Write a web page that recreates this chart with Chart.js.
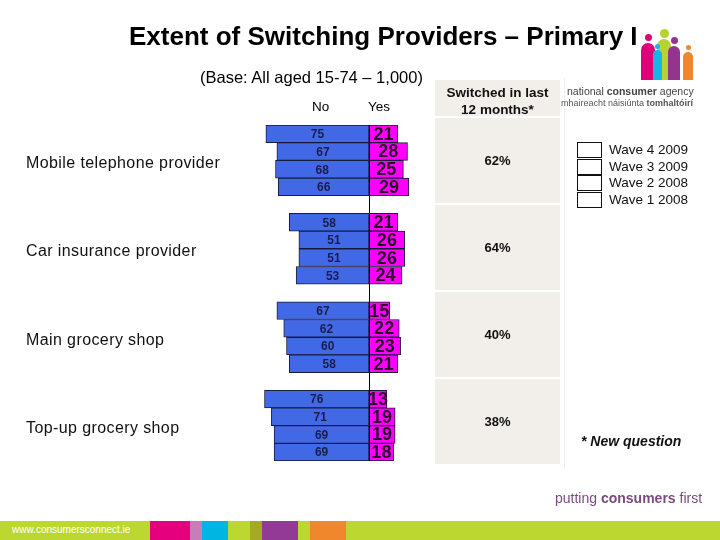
<!DOCTYPE html>
<html>
<head>
<meta charset="utf-8">
<script src="https://cdn.jsdelivr.net/npm/chart.js@4/dist/chart.umd.min.js"></script>
<style>
  html,body{margin:0;padding:0;background:#fff;}
  #page{position:relative;width:720px;height:540px;overflow:hidden;font-family:Arial,"Liberation Sans",sans-serif;background:#fff;}
  #c{position:absolute;left:0;top:0;}
  .abs{position:absolute;white-space:nowrap;}
  .cell{position:absolute;background:#f2eeea;}
  .cellTxt{position:absolute;left:0;right:0;text-align:center;font-weight:bold;font-size:13px;color:#111;}
  .lbox{position:absolute;left:577px;width:23px;height:14px;border:1px solid #111;background:#fff;}
  .ltxt{position:absolute;left:609px;font-size:13.5px;color:#111;}
</style>
</head>
<body>
<div id="page">
  <canvas id="c" width="720" height="540"></canvas>
</div>
<script>
// ---- data ----
const categories = ['Mobile telephone provider','Car insurance provider','Main grocery shop','Top-up grocery shop'];
const waves = ['Wave 4 2009','Wave 3 2009','Wave 2 2008','Wave 1 2008'];
const noValues = [[75,67,68,66],[58,51,51,53],[67,62,60,58],[76,71,69,69]];
const yesValues = [[21,28,25,29],[21,26,26,24],[15,22,23,21],[13,19,19,18]];
const switched = ['62%','64%','40%','38%'];
const seriesNames = ['No','Yes'];

// ---- rows (4 waves per category, blank spacer row between categories) ----
const rowLabels = [], noRow = [], yesRow = [], groupRows = [];
categories.forEach((cat, g) => {
  const start = rowLabels.length;
  waves.forEach((w, i) => {
    rowLabels.push(cat + ' – ' + w);
    noRow.push(-noValues[g][i]);
    yesRow.push(yesValues[g][i]);
  });
  groupRows.push([start, start + 3]);
  if (g < categories.length - 1) { rowLabels.push(''); noRow.push(null); yesRow.push(null); }
});

const page = document.getElementById('page');
function add(html){ page.insertAdjacentHTML('beforeend', html); }

// ---- static page elements ----
add('<div class="abs" style="left:129px;top:21px;font-size:26px;font-weight:bold;color:#000;">Extent of Switching Providers – Primary I</div>');
add('<div class="abs" style="left:200px;top:68px;font-size:16.5px;color:#000;">(Base: All aged 15-74 – 1,000)</div>');
add('<div class="abs" style="left:312px;top:99px;font-size:13.5px;color:#000;">' + seriesNames[0] + '</div>');
add('<div class="abs" style="left:368px;top:99px;font-size:13.5px;color:#000;">' + seriesNames[1] + '</div>');

// switched panel
add('<div class="cell" style="left:435px;top:80px;width:125px;height:36px;"><div class="cellTxt" style="top:4px;line-height:17px;font-size:13.5px;">Switched in last<br>12 months*</div></div>');
const cellTops = [118, 205, 292, 379];
switched.forEach((v, i) => {
  add('<div class="cell" style="left:435px;top:' + cellTops[i] + 'px;width:125px;height:85px;"><div class="cellTxt" style="top:35px;">' + v + '</div></div>');
});
add('<div class="abs" style="left:564px;top:78px;width:1px;height:390px;background:#eeeeee;"></div>');

// legend
waves.forEach((w, i) => {
  const t = 142 + i * 16.5;
  add('<div class="lbox" style="top:' + t + 'px;"></div>');
  add('<div class="ltxt" style="top:' + (t) + 'px;">' + w + '</div>');
});
add('<div class="abs" style="left:581px;top:433px;font-size:14px;font-weight:bold;font-style:italic;color:#111;">* New question</div>');

// logo
const figs = [
  {x:641,w:14,top:43,hx:648,hy:37,r:3.5,c:'#e2007a'},
  {x:657,w:14,top:39,hx:664,hy:33,r:4.5,c:'#b5d334'},
  {x:653,w:9,top:50,hx:657,hy:46,r:2.5,c:'#18b4e3'},
  {x:668,w:12,top:46,hx:674,hy:40,r:3.5,c:'#93358f'},
  {x:683,w:10,top:52,hx:688,hy:47,r:2.5,c:'#f0862d'}
];
figs.forEach(f => {
  add('<div class="abs" style="left:' + f.x + 'px;top:' + f.top + 'px;width:' + f.w + 'px;height:' + (80 - f.top) + 'px;background:' + f.c + ';border-radius:' + (f.w/2) + 'px ' + (f.w/2) + 'px 0 0;"></div>');
  add('<div class="abs" style="left:' + (f.hx - f.r) + 'px;top:' + (f.hy - f.r) + 'px;width:' + (2*f.r) + 'px;height:' + (2*f.r) + 'px;background:' + f.c + ';border-radius:50%;"></div>');
});
add('<div class="abs" style="left:567px;top:85px;font-size:10.5px;color:#444;">national <b>consumer</b> agency</div>');
add('<div class="abs" style="left:561px;top:98px;font-size:9px;color:#555;">mhaireacht náisiúnta <b>tomhaltóirí</b></div>');

// footer
add('<div class="abs" style="left:555px;top:490px;font-size:14px;color:#7b4a80;">putting <b>consumers</b> first</div>');
add('<div class="abs" style="left:0;top:521px;width:720px;height:19px;background:#bdd731;"></div>');
[[150,40,'#e5007d'],[190,12,'#c77db6'],[202,26,'#00b5e2'],[250,12,'#a7aa20'],[262,36,'#923a96'],[310,36,'#f0872c']].forEach(b => {
  add('<div class="abs" style="left:' + b[0] + 'px;top:521px;width:' + b[1] + 'px;height:19px;background:' + b[2] + ';"></div>');
});
add('<div class="abs" style="left:12px;top:524px;font-size:10px;color:#fff;">www.consumersconnect.ie</div>');

// ---- chart plugin: center line, values, category labels ----
const overlay = {
  id: 'overlay',
  afterDatasetsDraw(chart) {
    const ctx = chart.ctx, xs = chart.scales.x, ys = chart.scales.y, ca = chart.chartArea;
    ctx.save();
    const x0 = Math.round(xs.getPixelForValue(0)) + 0.5;
    ctx.strokeStyle = '#000'; ctx.lineWidth = 1;
    ctx.beginPath(); ctx.moveTo(x0, ca.top); ctx.lineTo(x0, ca.bottom); ctx.stroke();
    ctx.textAlign = 'center'; ctx.textBaseline = 'middle';
    chart.data.datasets.forEach((ds, di) => {
      const meta = chart.getDatasetMeta(di);
      meta.data.forEach((el, i) => {
        const v = ds.data[i];
        if (v === null || v === undefined) return;
        const cx = (el.x + el.base) / 2;
        if (di === 0) { ctx.font = 'bold 12px Arial'; ctx.fillStyle = '#1c1c4c'; }
        else { ctx.font = 'bold 18px Arial'; ctx.fillStyle = '#2a082a'; }
        ctx.fillText(String(Math.abs(v)), cx, el.y + 1);
      });
    });
    ctx.textAlign = 'left';
    ctx.font = '16px Arial'; ctx.fillStyle = '#111';
    ctx.letterSpacing = '0.4px';
    categories.forEach((cat, g) => {
      const y = (ys.getPixelForValue(groupRows[g][0]) + ys.getPixelForValue(groupRows[g][1])) / 2 + 3;
      ctx.fillText(cat, 26, y);
    });
    ctx.restore();
  }
};

new Chart(document.getElementById('c'), {
  type: 'bar',
  data: {
    labels: rowLabels,
    datasets: [
      { label: seriesNames[0], data: noRow, backgroundColor: '#4169e6', borderColor: '#1a1a3a', borderWidth: 1, borderSkipped: false, barPercentage: 1, categoryPercentage: 1 },
      { label: seriesNames[1], data: yesRow, backgroundColor: '#ff00ff', borderColor: '#1a1a3a', borderWidth: 1, borderSkipped: false, barPercentage: 1, categoryPercentage: 1 }
    ]
  },
  options: {
    indexAxis: 'y',
    responsive: false,
    animation: false,
    layout: { padding: { left: 259, right: 296, top: 125, bottom: 79 } },
    scales: {
      x: { display: false, stacked: true, min: -80, max: 40 },
      y: { display: false, stacked: true }
    },
    plugins: { legend: { display: false }, tooltip: { enabled: false } }
  },
  plugins: [overlay]
});
</script>
</body>
</html>
